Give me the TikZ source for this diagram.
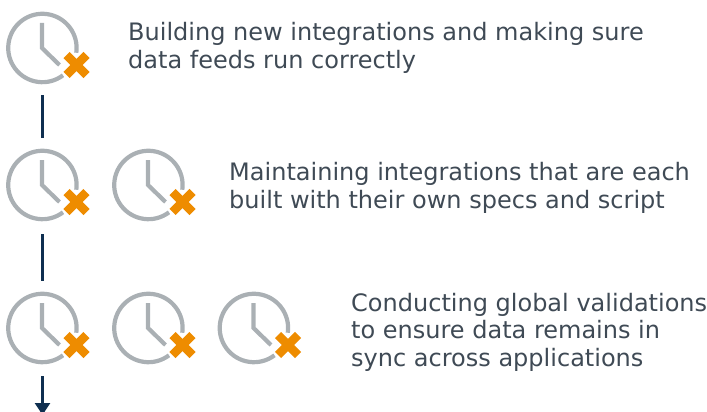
\documentclass[tikz,border=0pt]{standalone}
\usepackage{fontspec}
\setmainfont{DejaVu Sans}
\usetikzlibrary{arrows.meta}
\definecolor{clockgrey}{HTML}{AAB0B4}
\definecolor{xorange}{HTML}{EE8C00}
\definecolor{linknavy}{HTML}{0F2F50}
\definecolor{txt}{HTML}{3F4A55}
\tikzset{
  x=1pt,y=-1pt,
  clockline/.style={draw=clockgrey,line width=4.2pt,line cap=butt},
  xmark/.style={draw=xorange,line width=8.5pt,line cap=butt},
  link/.style={draw=linknavy,line width=2.5pt},
  lab/.style={anchor=west,align=left,inner sep=0pt,text=txt,font=\fontsize{24}{27.5}\selectfont},
  pics/clockx/.style={code={
    \draw[clockline] (20.5,27.3) arc[start angle=53,end angle=368,radius=34.2];
    \draw[clockline] (-0.5,-25) -- (-0.5,0) -- (17,17);
    \draw[xmark] (24,7) -- (44,27);
    \draw[xmark] (44,7) -- (24,27);
  }}
}
\begin{document}
\begin{tikzpicture}
\useasboundingbox (0,0) rectangle (707,412);
\pic at (42.5,48) {clockx};
\pic at (42.5,185) {clockx};
\pic at (148.5,185) {clockx};
\pic at (42.5,328) {clockx};
\pic at (148.5,328) {clockx};
\pic at (254,328) {clockx};
\coordinate (a1) at (42.5,95);
\coordinate (a2) at (42.5,138);
\coordinate (b1) at (42.5,234);
\coordinate (b2) at (42.5,280.5);
\coordinate (c1) at (42.5,376);
\coordinate (c2) at (42.5,415);
\draw[link] (a1) -- (a2);
\draw[link] (b1) -- (b2);
\draw[link,-{Triangle[length=12pt,width=15pt]}] (c1) -- (c2);
\node[lab] (t1) at (128,48) {Building new integrations and making sure\\data feeds run correctly};
\node[lab] (t2) at (229,188) {Maintaining integrations that are each\\built with their own specs and script};
\node[lab] (t3) at (351,332) {Conducting global validations\\to ensure data remains in\\sync across applications};
\end{tikzpicture}
\end{document}
